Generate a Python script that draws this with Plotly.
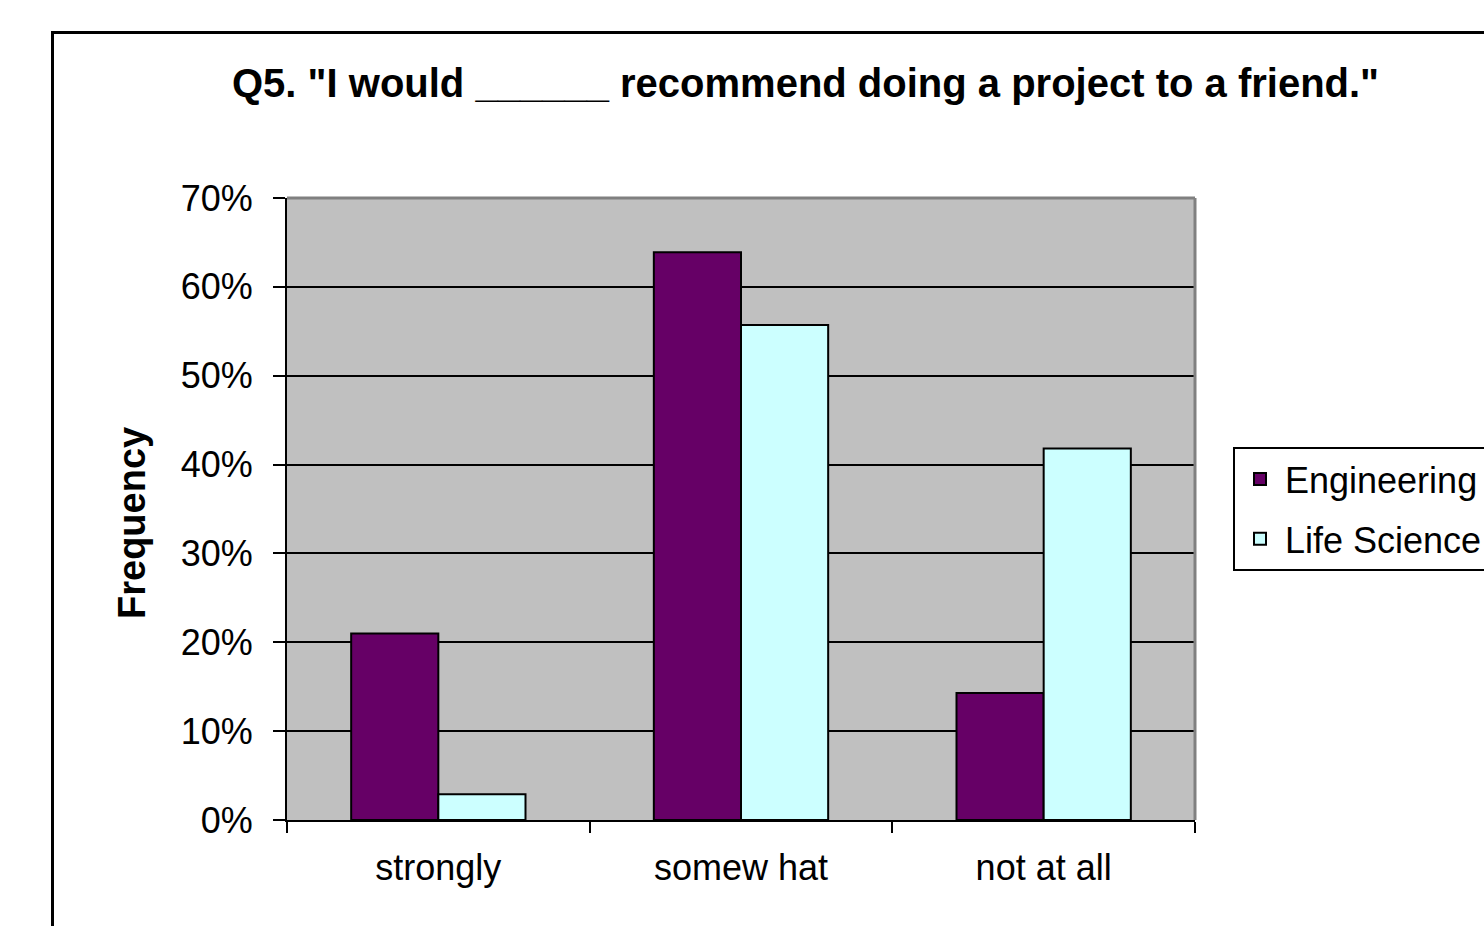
import plotly.graph_objects as go

categories = ["strongly", "somew hat", "not at all"]
engineering = [0.21, 0.639, 0.143]
life_science = [0.029, 0.557, 0.418]
series_names = ["Engineering", "Life Science"]
title_text = 'Q5. "I would ______ recommend doing a project to a friend."'
y_title = "Frequency"

W, H = 1484, 926
L, R, T, B = 287, 0, 198, 106
pw = W - L - R
ph = H - T - B
plot_right = 1195

def px_x(x):
    return (x - L) / pw

def px_y(y):
    return (H - B - y) / ph

FONT = "Arial, Liberation Sans, sans-serif"

fig = go.Figure()
fig.add_trace(go.Bar(
    x=categories, y=engineering, name=series_names[0],
    marker=dict(color="#660066", line=dict(color="black", width=2)),
    legendgroup="a",
))
fig.add_trace(go.Bar(
    x=categories, y=life_science, name=series_names[1],
    marker=dict(color="#CCFFFF", line=dict(color="black", width=2)),
    legendgroup="b",
))

fig.update_layout(
    width=W, height=H,
    margin=dict(l=L, r=R, t=T, b=B, autoexpand=False),
    paper_bgcolor="white",
    plot_bgcolor="#C0C0C0",
    barmode="group",
    bargap=0.424,
    bargroupgap=0,
    font=dict(family=FONT, color="black", size=36),
    showlegend=True,
    legend=dict(
        x=px_x(1233), y=px_y(447), xanchor="left", yanchor="top",
        bgcolor="white", bordercolor="black", borderwidth=2,
        font=dict(size=36, family=FONT, color="black"),
        traceorder="grouped", tracegroupgap=10,
        itemwidth=40,
    ),
    xaxis=dict(
        domain=[0, px_x(plot_right)],
        showline=True, linecolor="black", linewidth=2,
        ticks="outside", tickson="boundaries", ticklen=11, tickwidth=2, tickcolor="black",
        tickfont=dict(size=36, family=FONT, color="black"),
        ticklabelstandoff=15,
        showgrid=False, zeroline=False,
    ),
    yaxis=dict(
        range=[0, 0.70], dtick=0.1, tickformat=".0%",
        showline=True, linecolor="black", linewidth=2,
        ticks="outside", ticklen=12, tickwidth=2, tickcolor="black",
        tickfont=dict(size=36, family=FONT, color="black"),
        ticklabelstandoff=13,
        showgrid=True, gridcolor="black", gridwidth=2,
        zeroline=False,
    ),
)

# plot-area top and right border (grey)
fig.add_shape(type="line", xref="x domain", yref="y domain", x0=0, x1=1, y0=1, y1=1,
              line=dict(color="#808080", width=3), layer="above")
fig.add_shape(type="line", xref="x domain", yref="y domain", x0=1, x1=1, y0=0, y1=1,
              line=dict(color="#808080", width=3), layer="above")

# outer chart border
fig.add_shape(type="rect", xref="paper", yref="paper",
              x0=px_x(52.5), x1=px_x(1530), y0=px_y(980), y1=px_y(32.5),
              line=dict(color="black", width=3), fillcolor="rgba(0,0,0,0)", layer="above")

# title
fig.add_annotation(text="<b>" + title_text + "</b>", xref="paper", yref="paper",
                   x=px_x(805), y=px_y(83), xanchor="center", yanchor="middle",
                   showarrow=False, font=dict(size=40, family=FONT, color="black"))
# y axis title
fig.add_annotation(text="<b>" + y_title + "</b>", xref="paper", yref="paper",
                   x=px_x(132), y=px_y(523), xanchor="center", yanchor="middle",
                   textangle=-90, showarrow=False,
                   font=dict(size=38, family=FONT, color="black"))

fig.write_html("out.html")
